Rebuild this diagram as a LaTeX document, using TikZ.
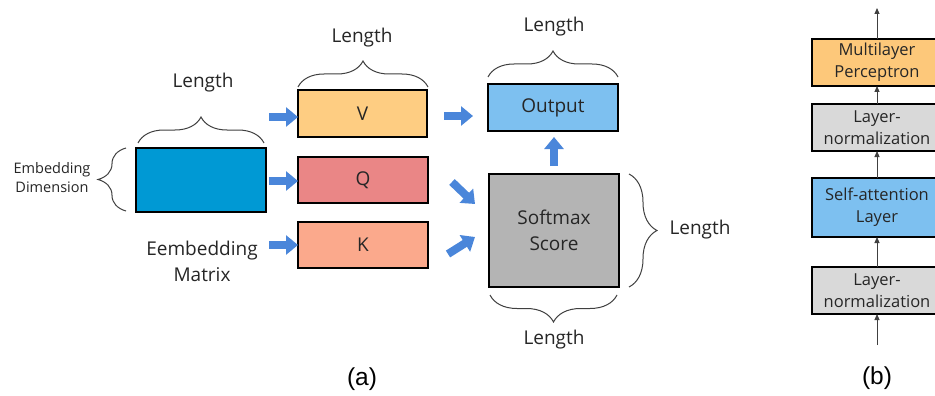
\documentclass[tikz,border=0pt]{standalone}
\usepackage{fontspec}
\setmainfont{Open Sans}
\newfontfamily\capfont{Liberation Sans}
\usetikzlibrary{arrows.meta,decorations.pathreplacing}
\definecolor{embblue}{HTML}{0099D4}
\definecolor{vcol}{HTML}{FECD82}
\definecolor{qcol}{HTML}{EA8686}
\definecolor{kcol}{HTML}{FBA98C}
\definecolor{outcol}{HTML}{7DC0F0}
\definecolor{softcol}{HTML}{B4B4B4}
\definecolor{mlpcol}{HTML}{FDC87A}
\definecolor{lncol}{HTML}{D9D9D9}
\definecolor{arrblue}{HTML}{4A86DA}
\definecolor{bracecol}{HTML}{404040}
\definecolor{txtcol}{HTML}{262626}
\tikzset{
  box/.style={draw=black, line width=2pt, inner sep=0pt, outer sep=0pt, align=center, text=txtcol},
  barrow/.style={draw=arrblue, line width=8pt, -{Triangle[length=12pt,width=19pt]}},
  thinarrow/.style={draw=bracecol, line width=0.9pt, -{Triangle[length=6pt,width=5pt]}},
  bracedeco/.style={draw=bracecol, line width=1pt, decorate, decoration={brace, amplitude=#1}},
  lbl/.style={text=txtcol, inner sep=0pt},
  bigtxt/.style={font=\fontsize{19}{26}\selectfont},
  midtxt/.style={font=\fontsize{16.5}{22}\selectfont},
  smalltxt/.style={font=\fontsize{14.5}{19}\selectfont},
  captxt/.style={font=\capfont\fontsize{24.5}{28}\selectfont, text=black, inner sep=0pt},
}
\begin{document}
\begin{tikzpicture}[x=1pt,y=-1pt]
\clip (0,0) rectangle (935,396);
\fill[white] (0,0) rectangle (935,396);

% panel (a) boxes
\node[box, fill=embblue, minimum width=130pt, minimum height=64pt] (emb) at (201,180) {};
\node[box, fill=vcol, minimum width=129pt, minimum height=47pt, bigtxt] (V) at (362.5,113.5) {V};
\node[box, fill=qcol, minimum width=130pt, minimum height=46pt, bigtxt] (Q) at (363,180) {Q};
\node[box, fill=kcol, minimum width=130pt, minimum height=46pt, bigtxt] (K) at (363,245) {K};
\node[box, fill=outcol, minimum width=130pt, minimum height=47pt, bigtxt] (out) at (553,107.5) {Output};
\node[box, fill=softcol, minimum width=130pt, minimum height=113pt, bigtxt] (soft) at (554,230.5) {Softmax\\Score};

% labels
\node[lbl, bigtxt] (lenA) at (203,83) {Length};
\node[lbl, bigtxt] (lenV) at (362,38) {Length};
\node[lbl, bigtxt] (lenO) at (554,27) {Length};
\node[lbl, bigtxt] (lenR) at (700,230) {Length};
\node[lbl, bigtxt] (lenB) at (554,340) {Length};
\node[lbl, smalltxt, align=center] (embdim) at (52,178) {Embedding\\Dimension};
\node[lbl, bigtxt, align=center] (embmat) at (202,261) {Eembedding\\Matrix};

% braces
\draw[bracedeco=26pt] (138,143) -- (264,143);
\draw[bracedeco=26pt] (298,87) -- (428,87);
\draw[bracedeco=26pt] (488,77) -- (618,77);
\draw[bracedeco=28pt] (126,211) -- (126,148);
\draw[bracedeco=28pt] (629,174) -- (629,287);
\draw[bracedeco=27pt] (617,295) -- (490,295);

% block arrows
\coordinate (aV) at (269,117);
\coordinate (aQ) at (269,181);
\coordinate (aK) at (269,245);
\draw[barrow] (aV) -- (V.west |- aV);
\draw[barrow] (aQ) -- (Q.west |- aQ);
\draw[barrow] (aK) -- (K.west |- aK);
\coordinate (aO1) at (444,116);
\coordinate (aO2) at (473,116);
\draw[barrow] (aO1) -- (aO2);
\coordinate (aS1) at (554,166);
\coordinate (aS2) at (554,137);
\draw[barrow] (aS1) -- (aS2);
\coordinate (aQ1) at (452,182);
\coordinate (aQ2) at (475,204);
\draw[barrow] (aQ1) -- (aQ2);
\coordinate (aK1) at (448,254);
\coordinate (aK2) at (475,237);
\draw[barrow] (aK1) -- (aK2);

% panel (b)
\node[box, fill=mlpcol, minimum width=130pt, minimum height=47pt, midtxt] (mlp) at (877,62.5) {Multilayer\\Perceptron};
\node[box, fill=lncol, minimum width=130pt, minimum height=47pt, midtxt] (ln1) at (877,127.5) {Layer-\\normalization};
\node[box, fill=outcol, minimum width=130pt, minimum height=59pt, midtxt] (sa) at (877,207.5) {Self-attention\\Layer};
\node[box, fill=lncol, minimum width=130pt, minimum height=47pt, midtxt] (ln2) at (877,290.5) {Layer-\\normalization};
\coordinate (topend) at (877,8);
\coordinate (botstart) at (877,345);
\draw[thinarrow] (mlp.north) -- (topend);
\draw[thinarrow] (ln1.north) -- (mlp.south);
\draw[thinarrow] (sa.north) -- (ln1.south);
\draw[thinarrow] (ln2.north) -- (sa.south);
\draw[thinarrow] (botstart) -- (ln2.south);

% captions
\node[captxt] (capa) at (362,379) {(a)};
\node[captxt] (capb) at (877,378) {(b)};
\end{tikzpicture}
\end{document}
